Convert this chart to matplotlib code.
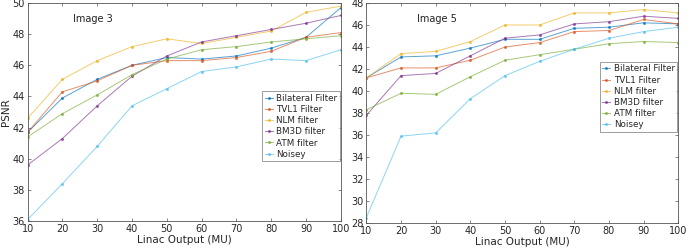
import matplotlib.pyplot as plt
import numpy as np

# Linac output (MU)
mu = [10, 20, 30, 40, 50, 60, 70, 80, 90, 100]
names = ['Bilateral Filter', 'TVL1 Filter', 'NLM filter', 'BM3D filter', 'ATM filter', 'Noisey']
colors = ['#0072BD', '#D95319', '#EDB120', '#7E2F8E', '#77AC30', '#4DBEEE']

# Image 3 PSNR
img3_bilateral = [41.7, 43.9, 45.1, 46.0, 46.5, 46.4, 46.6, 47.1, 47.8, 49.7]
img3_tvl1 = [41.7, 44.3, 45.0, 46.0, 46.3, 46.3, 46.5, 46.9, 47.8, 48.1]
img3_nlm = [42.6, 45.1, 46.3, 47.2, 47.7, 47.4, 47.8, 48.2, 49.4, 49.8]
img3_bm3d = [39.6, 41.3, 43.4, 45.3, 46.6, 47.5, 47.9, 48.3, 48.7, 49.2]
img3_atm = [41.4, 42.9, 44.1, 45.4, 46.4, 47.0, 47.2, 47.5, 47.7, 47.9]
img3_noisey = [36.1, 38.4, 40.8, 43.4, 44.5, 45.6, 45.9, 46.4, 46.3, 47.0]

# Image 5 PSNR
img5_bilateral = [41.2, 43.1, 43.2, 43.9, 44.7, 44.7, 45.7, 45.8, 46.2, 46.1]
img5_tvl1 = [41.2, 42.1, 42.1, 42.8, 44.0, 44.4, 45.4, 45.5, 46.5, 46.1]
img5_nlm = [41.2, 43.4, 43.6, 44.5, 46.0, 46.0, 47.1, 47.1, 47.4, 47.1]
img5_bm3d = [37.8, 41.4, 41.6, 43.2, 44.8, 45.1, 46.1, 46.3, 46.8, 46.6]
img5_atm = [38.3, 39.8, 39.7, 41.3, 42.8, 43.3, 43.8, 44.3, 44.5, 44.4]
img5_noisey = [28.5, 35.9, 36.2, 39.3, 41.4, 42.7, 43.8, 44.8, 45.4, 45.8]

img3 = [img3_bilateral, img3_tvl1, img3_nlm, img3_bm3d, img3_atm, img3_noisey]
img5 = [img5_bilateral, img5_tvl1, img5_nlm, img5_bm3d, img5_atm, img5_noisey]

fig = plt.figure(figsize=(6.9, 2.49), dpi=100)
ax1 = fig.add_axes([0.04, 0.112, 0.454, 0.876])
ax2 = fig.add_axes([0.531, 0.104, 0.452, 0.884])

txtc = '#262626'

def style(ax, ylim, yticks):
    ax.set_xlim(10, 100)
    ax.set_ylim(*ylim)
    ax.set_xticks(mu)
    ax.set_yticks(yticks)
    ax.tick_params(direction='in', length=2.5, width=0.5, labelsize=7, colors='#555555',
                   labelcolor=txtc, top=True, right=True, pad=2)
    for s in ax.spines.values():
        s.set_linewidth(0.6)
        s.set_color('#555555')
    ax.set_xlabel('Linac Output (MU)', fontsize=7.5, color=txtc, labelpad=1)

for ax, data in [(ax1, img3), (ax2, img5)]:
    for vals, nm, c in zip(data, names, colors):
        ax.plot(mu, vals, color=c, lw=0.7, marker='.', ms=2.5, alpha=0.65, label=nm)

style(ax1, (36, 50), np.arange(36, 51, 2))
style(ax2, (28, 48), np.arange(28, 49, 2))
ax1.set_ylabel('PSNR', fontsize=7.5, color=txtc, labelpad=1)

ax1.text(23, 48.8, 'Image 3', fontsize=7, color='#222222')
ax2.text(24.5, 46.3, 'Image 5', fontsize=7, color='#222222')

for ax, loc in [(ax1, (1.0, 0.27)), (ax2, (1.0, 0.41))]:
    leg = ax.legend(loc='lower right', bbox_to_anchor=loc, fontsize=6.3, frameon=True,
                    fancybox=False, borderpad=0.3, labelspacing=0.25, handlelength=0.9,
                    handletextpad=0.4, borderaxespad=0.1)
    leg.get_frame().set_edgecolor('#555555')
    leg.get_frame().set_linewidth(0.5)
    for t in leg.get_texts():
        t.set_color(txtc)

fig.savefig('out.png', dpi=100)
